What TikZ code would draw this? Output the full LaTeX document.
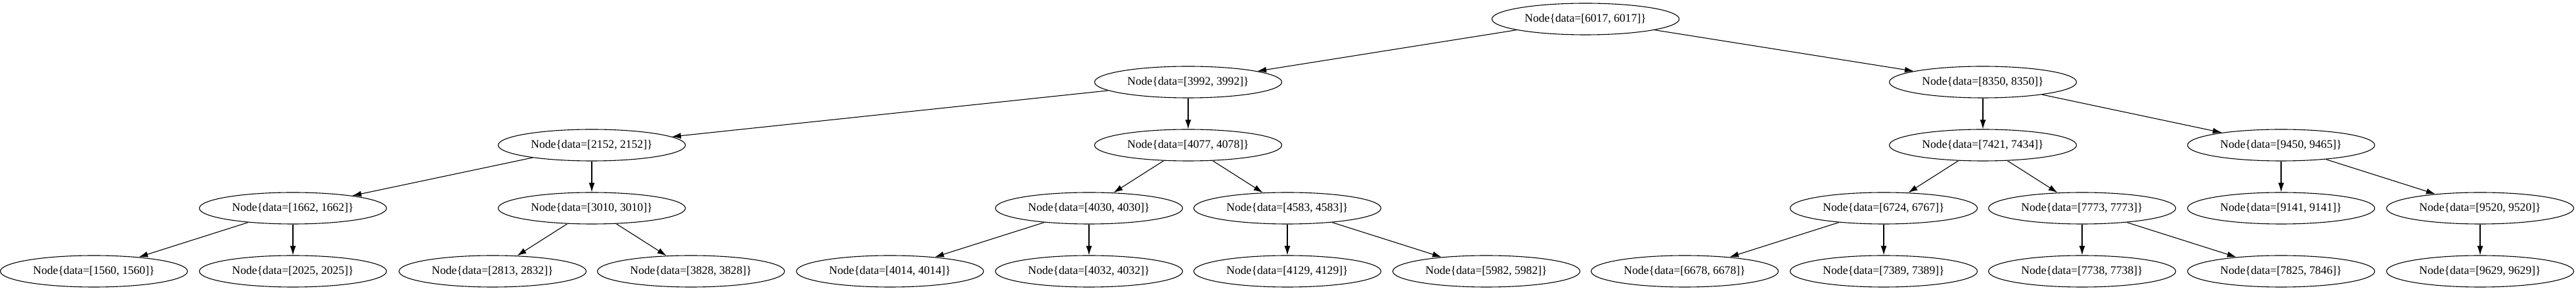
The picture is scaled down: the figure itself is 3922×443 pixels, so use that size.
\documentclass[tikz,border=0pt]{standalone}
\usepackage{fontspec}
\setmainfont{Liberation Serif}
\usepackage{tikz}
\usetikzlibrary{arrows.meta,shapes.geometric}
\tikzset{%
  >={Latex[width=9pt,length=14pt]},
  % Specifications for style of nodes:
      base/.style = {ellipse, draw=black, line width=1.1pt,
                     minimum width=285pt, minimum height=48pt,
                     inner sep=2pt, text centered,
                     font=\fontsize{17.6}{20}\selectfont},
  dataNode/.style = {base},
      link/.style = {->, line width=1.1pt},
}

\begin{document}
\begin{tikzpicture}[x=1pt, y=1pt, node distance=96pt]
  \useasboundingbox (0,0) rectangle (3922,443);
  % Nodes of the tree (root, then level by level)
  \node (node6017) [dataNode] at (2414,414) {Node\{data=[6017, 6017]\}};

  \node (node3992) [dataNode, below of=node6017, xshift=-605pt] {Node\{data=[3992, 3992]\}};
  \node (node8350) [dataNode, below of=node6017, xshift=605pt] {Node\{data=[8350, 8350]\}};

  \node (node2152) [dataNode, below of=node3992, xshift=-908pt] {Node\{data=[2152, 2152]\}};
  \node (node4077) [dataNode, below of=node3992] {Node\{data=[4077, 4078]\}};
  \node (node7421) [dataNode, below of=node8350] {Node\{data=[7421, 7434]\}};
  \node (node9450) [dataNode, below of=node8350, xshift=454pt] {Node\{data=[9450, 9465]\}};

  \node (node1662) [dataNode, below of=node2152, xshift=-455pt] {Node\{data=[1662, 1662]\}};
  \node (node3010) [dataNode, below of=node2152] {Node\{data=[3010, 3010]\}};
  \node (node4030) [dataNode, below of=node4077, xshift=-151pt] {Node\{data=[4030, 4030]\}};
  \node (node4583) [dataNode, below of=node4077, xshift=151pt] {Node\{data=[4583, 4583]\}};
  \node (node6724) [dataNode, below of=node7421, xshift=-151pt] {Node\{data=[6724, 6767]\}};
  \node (node7773) [dataNode, below of=node7421, xshift=151pt] {Node\{data=[7773, 7773]\}};
  \node (node9141) [dataNode, below of=node9450] {Node\{data=[9141, 9141]\}};
  \node (node9520) [dataNode, below of=node9450, xshift=303pt] {Node\{data=[9520, 9520]\}};

  \node (node1560) [dataNode, below of=node1662, xshift=-303pt] {Node\{data=[1560, 1560]\}};
  \node (node2025) [dataNode, below of=node1662] {Node\{data=[2025, 2025]\}};
  \node (node2813) [dataNode, below of=node3010, xshift=-151pt] {Node\{data=[2813, 2832]\}};
  \node (node3828) [dataNode, below of=node3010, xshift=151pt] {Node\{data=[3828, 3828]\}};
  \node (node4014) [dataNode, below of=node4030, xshift=-303pt] {Node\{data=[4014, 4014]\}};
  \node (node4032) [dataNode, below of=node4030] {Node\{data=[4032, 4032]\}};
  \node (node4129) [dataNode, below of=node4583] {Node\{data=[4129, 4129]\}};
  \node (node5982) [dataNode, below of=node4583, xshift=303pt] {Node\{data=[5982, 5982]\}};
  \node (node6678) [dataNode, below of=node6724, xshift=-303pt] {Node\{data=[6678, 6678]\}};
  \node (node7389) [dataNode, below of=node6724] {Node\{data=[7389, 7389]\}};
  \node (node7738) [dataNode, below of=node7773] {Node\{data=[7738, 7738]\}};
  \node (node7825) [dataNode, below of=node7773, xshift=303pt] {Node\{data=[7825, 7846]\}};
  \node (node9629) [dataNode, below of=node9520] {Node\{data=[9629, 9629]\}};

  % Lines from each parent to its children
  \draw[link] (node6017) -- (node3992);
  \draw[link] (node6017) -- (node8350);
  \draw[link] (node3992) -- (node2152);
  \draw[link] (node3992) -- (node4077);
  \draw[link] (node8350) -- (node7421);
  \draw[link] (node8350) -- (node9450);
  \draw[link] (node2152) -- (node1662);
  \draw[link] (node2152) -- (node3010);
  \draw[link] (node4077) -- (node4030);
  \draw[link] (node4077) -- (node4583);
  \draw[link] (node7421) -- (node6724);
  \draw[link] (node7421) -- (node7773);
  \draw[link] (node9450) -- (node9141);
  \draw[link] (node9450) -- (node9520);
  \draw[link] (node1662) -- (node1560);
  \draw[link] (node1662) -- (node2025);
  \draw[link] (node3010) -- (node2813);
  \draw[link] (node3010) -- (node3828);
  \draw[link] (node4030) -- (node4014);
  \draw[link] (node4030) -- (node4032);
  \draw[link] (node4583) -- (node4129);
  \draw[link] (node4583) -- (node5982);
  \draw[link] (node6724) -- (node6678);
  \draw[link] (node6724) -- (node7389);
  \draw[link] (node7773) -- (node7738);
  \draw[link] (node7773) -- (node7825);
  \draw[link] (node9520) -- (node9629);
\end{tikzpicture}
\end{document}
